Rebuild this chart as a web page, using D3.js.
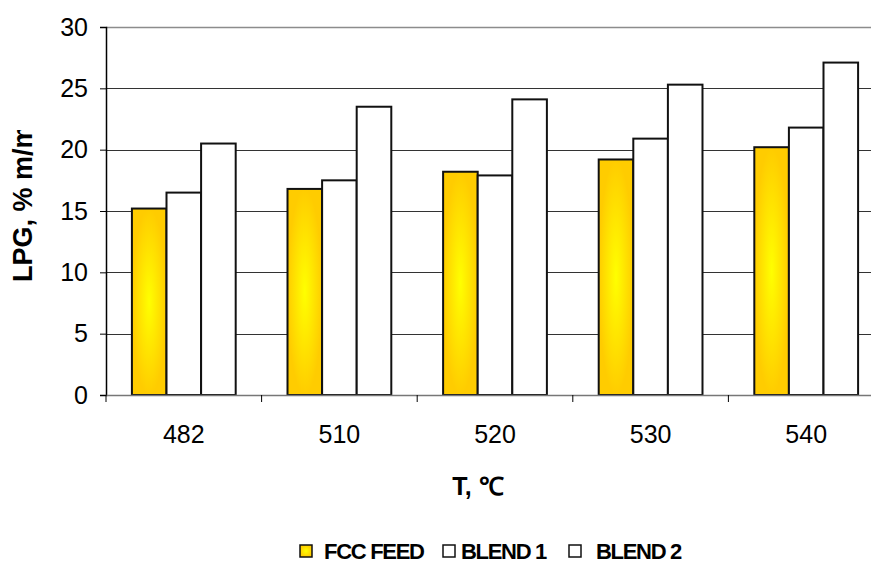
<!DOCTYPE html>
<html>
<head>
<meta charset="utf-8">
<script src="https://cdn.jsdelivr.net/npm/d3@7"></script>
<style>
  html, body { margin: 0; padding: 0; background: #fff; }
  svg { display: block; font-family: "Liberation Sans", Arial, sans-serif; }
</style>
</head>
<body>
<svg id="chart" width="871" height="564"></svg>
<script>
const categories = ["482", "510", "520", "530", "540"];
const seriesNames = ["FCC FEED", "BLEND 1", "BLEND 2"];
const fccFeed = [15.2, 16.8, 18.2, 19.2, 20.2];
const blend1 = [16.5, 17.5, 17.9, 20.9, 21.8];
const blend2 = [20.5, 23.5, 24.1, 25.3, 27.1];
const yTicks = [0, 5, 10, 15, 20, 25, 30];
const yTitle = "LPG, % m/m";
const xTitle = "T, \u2103";

(function () {
const series = [fccFeed, blend1, blend2];
const svg = d3.select("#chart");
const plotLeft = 106, plotTop = 27, plotBottom = 395;
const bandW = 155.6;
const plotRight = plotLeft + bandW * categories.length;

const defs = svg.append("defs");
const grad = defs.append("radialGradient").attr("id", "gold")
  .attr("cx", "50%").attr("cy", "50%").attr("r", "50%");
grad.append("stop").attr("offset", "0%").attr("stop-color", "#FFFF00");
grad.append("stop").attr("offset", "100%").attr("stop-color", "#FFCC00");

defs.append("clipPath").attr("id", "ylabclip")
  .append("rect").attr("x", 0).attr("y", 130).attr("width", 80).attr("height", 300);

const x0 = d3.scaleBand().domain(categories).range([plotLeft, plotRight]).padding(0);
const x1 = d3.scaleBand().domain(d3.range(3))
  .range([bandW * 0.1665, bandW * 0.8335]).padding(0);
const y = d3.scaleLinear().domain([0, 30]).range([plotBottom, plotTop]);

// gridlines
svg.append("g").selectAll("line").data(yTicks.filter(d => d > 0)).join("line")
  .attr("x1", plotLeft).attr("x2", plotRight)
  .attr("y1", d => Math.round(y(d)) + 0.5).attr("y2", d => Math.round(y(d)) + 0.5)
  .attr("stroke", d => d === 30 ? "#8c8c8c" : "#333")
  .attr("stroke-width", d => d === 30 ? 1.5 : 1);

// y axis
const yAxis = d3.axisLeft(y).tickValues(yTicks).tickSize(6).tickPadding(12);
const gy = svg.append("g").attr("transform", `translate(${plotLeft},0)`).call(yAxis);
gy.select(".domain").attr("stroke", "#000").attr("stroke-width", 1.5);
gy.selectAll(".tick line").attr("stroke", "#000");
gy.selectAll(".tick text").attr("font-size", 25).attr("fill", "#000")
  .attr("font-family", "'Liberation Sans', Arial, sans-serif");

// bars
const groups = svg.append("g").selectAll("g").data(categories).join("g")
  .attr("transform", d => `translate(${x0(d)},0)`);
groups.selectAll("rect")
  .data((c, i) => series.map((s, k) => ({ k, v: s[i] })))
  .join("rect")
  .attr("x", d => x1(d.k))
  .attr("width", x1.bandwidth())
  .attr("y", d => y(d.v))
  .attr("height", d => y(0) - y(d.v))
  .attr("fill", d => d.k === 0 ? "url(#gold)" : "#fff")
  .attr("stroke", "#111")
  .attr("stroke-width", 2);

// x axis
const xAxis = d3.axisBottom(x0).tickSize(0).tickPadding(30);
const gx = svg.append("g").attr("transform", `translate(0,${plotBottom})`).call(xAxis);
gx.select(".domain").attr("stroke", "#777").attr("stroke-width", 1.5);
gx.selectAll(".tick text").attr("font-size", 25).attr("fill", "#000")
  .attr("font-family", "'Liberation Sans', Arial, sans-serif");
// category separator ticks
svg.append("g").selectAll("line").data(d3.range(categories.length + 1)).join("line")
  .attr("x1", i => plotLeft + i * bandW).attr("x2", i => plotLeft + i * bandW)
  .attr("y1", plotBottom).attr("y2", plotBottom + 7)
  .attr("stroke", "#000").attr("stroke-width", 1);

// titles
svg.append("text").attr("x", 478).attr("y", 495)
  .attr("text-anchor", "middle").attr("font-weight", "bold").attr("font-size", 25)
  .text(xTitle);

svg.append("g").attr("clip-path", "url(#ylabclip)")
  .append("text").attr("transform", "translate(32,282) rotate(-90)")
  .attr("text-anchor", "start").attr("font-weight", "bold").attr("font-size", 27)
  .text(yTitle);

// legend
const legend = svg.append("g").attr("font-weight", "bold").attr("font-size", 22)
  .attr("letter-spacing", "-1.3px");
const legItems = [
  { sx: 300, tx: 324 },
  { sx: 443, tx: 461 },
  { sx: 569, tx: 596 }
];
legItems.forEach((p, i) => {
  legend.append("rect").attr("x", p.sx).attr("y", 545).attr("width", 12).attr("height", 12)
    .attr("fill", i === 0 ? "url(#gold)" : "#fff").attr("stroke", "#111").attr("stroke-width", 1.5);
  legend.append("text").attr("x", p.tx).attr("y", 559).text(seriesNames[i]);
});
})();
</script>
</body>
</html>
